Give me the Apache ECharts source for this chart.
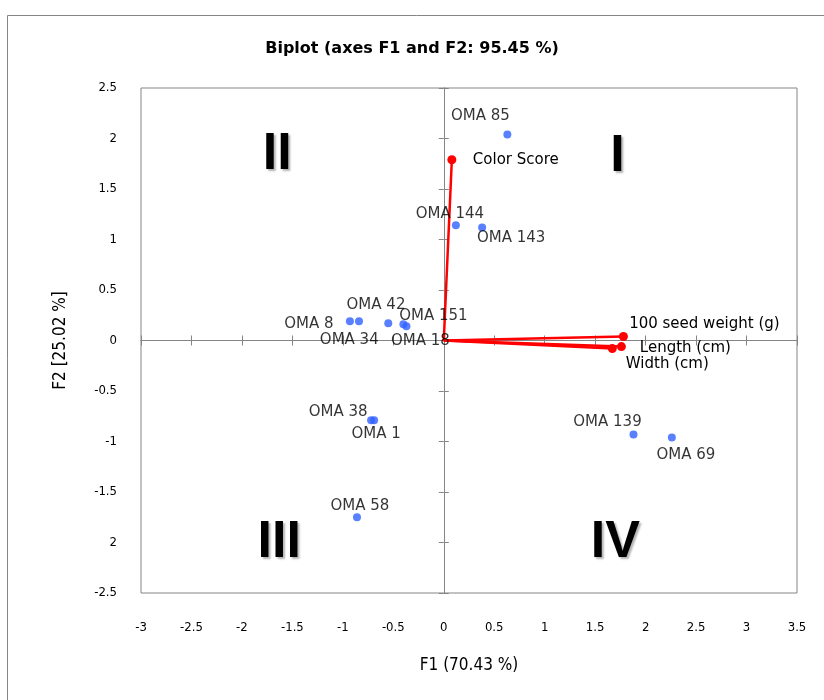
<!DOCTYPE html>
<html>
<head>
<meta charset="utf-8">
<script src="https://cdn.jsdelivr.net/npm/echarts@6/dist/echarts.min.js"></script>
<style>
  html, body { margin: 0; padding: 0; background: #fff; }
  #main { width: 824px; height: 700px; }
</style>
</head>
<body>
<div id="main"></div>
<script>
// observations (blue points)
const obsNames = ['OMA 85', 'OMA 144', 'OMA 143', 'OMA 8', 'OMA 42', 'OMA 34', 'OMA 151', 'OMA 18', 'OMA 38', 'OMA 1', 'OMA 58', 'OMA 139', 'OMA 69'];
const obsF1 = [0.63, 0.12, 0.38, -0.93, -0.84, -0.55, -0.40, -0.37, -0.72, -0.69, -0.86, 1.88, 2.26];
const obsF2 = [2.04, 1.14, 1.12, 0.19, 0.19, 0.17, 0.16, 0.14, -0.79, -0.79, -1.75, -0.93, -0.96];

// variables (red vectors)
const varNames = ['Color Score', '100 seed weight (g)', 'Length (cm)', 'Width (cm)'];
const varF1 = [0.08, 1.78, 1.76, 1.67];
const varF2 = [1.79, 0.04, -0.06, -0.08];

// quadrant numerals
const quadNames = ['I', 'II', 'III', 'IV'];
const quadF1 = [1.72, -1.65, -1.63, 1.70];
const quadF2 = [1.82, 1.84, -2.0, -2.0];

// tick labels (the original shows "2" at -2 on F2)
const xTicks = [-3, -2.5, -2, -1.5, -1, -0.5, 0, 0.5, 1, 1.5, 2, 2.5, 3, 3.5];
const xTickLabels = ['-3', '-2.5', '-2', '-1.5', '-1', '-0.5', '0', '0.5', '1', '1.5', '2', '2.5', '3', '3.5'];
const yTicks = [-2.5, -2, -1.5, -1, -0.5, 0, 0.5, 1, 1.5, 2, 2.5];
const yTickLabels = ['-2.5', '2', '-1.5', '-1', '-0.5', '0', '0.5', '1', '1.5', '2', '2.5'];

// label offsets (px, label centre relative to mark)
const obsLabelOffset = {
  'OMA 85': [-27, -18], 'OMA 144': [-6, -11], 'OMA 143': [29, 11], 'OMA 8': [-41, 3],
  'OMA 42': [17, -16], 'OMA 34': [-39, 17], 'OMA 151': [30, -8], 'OMA 18': [14, 15],
  'OMA 38': [-33, -8], 'OMA 1': [2, 14], 'OMA 58': [3, -11], 'OMA 139': [-26, -12], 'OMA 69': [14, 18]
};
const varLabelOffset = {
  'Color Score': [64, 0], '100 seed weight (g)': [81, -12], 'Length (cm)': [64, 2], 'Width (cm)': [55, 16]
};

const labelFont = 'DejaVu Sans';
const axisFont = '"Liberation Sans Narrow", "DejaVu Sans Condensed", "Liberation Sans"';
const gray = '#858585';

const chart = echarts.init(document.getElementById('main'));

function fmt(ticks, labels) {
  return function (v) {
    const i = ticks.findIndex(t => Math.abs(t - v) < 1e-6);
    return i >= 0 ? labels[i] : '';
  };
}

const xBase = { type: 'value', min: -3, max: 3.5, interval: 0.5, splitLine: { show: false } };
const yBase = { type: 'value', min: -2.5, max: 2.5, interval: 0.5, splitLine: { show: false } };

const xAxes = [
  Object.assign({}, xBase, {
    position: 'bottom',
    axisLine: { show: false, onZero: false },
    axisTick: { show: false },
    axisLabel: { margin: 28, fontFamily: axisFont, fontSize: 13, color: '#000', formatter: fmt(xTicks, xTickLabels) },
    name: 'F1 (70.43 %)', nameLocation: 'middle', nameGap: 64,
    nameTextStyle: { fontFamily: axisFont, fontSize: 17, color: '#000' }
  })
];
['inside', 'outside'].forEach(dir => {
  xAxes.push(Object.assign({}, xBase, {
    position: 'bottom',
    axisLine: { show: true, onZero: true, onZeroAxisIndex: 0, lineStyle: { color: gray, width: 1 } },
    axisTick: { show: true, inside: dir === 'inside', length: 5, lineStyle: { color: gray } },
    axisLabel: { show: false }
  }));
});

const yAxes = [
  Object.assign({}, yBase, {
    position: 'left',
    axisLine: { show: false, onZero: false },
    axisTick: { show: false },
    axisLabel: { margin: 24, fontFamily: axisFont, fontSize: 13, color: '#000', formatter: fmt(yTicks, yTickLabels) },
    name: 'F2 [25.02 %]', nameLocation: 'middle', nameGap: 72,
    nameTextStyle: { fontFamily: axisFont, fontSize: 17, color: '#000' }
  })
];
['inside', 'outside'].forEach(dir => {
  yAxes.push(Object.assign({}, yBase, {
    position: 'left',
    axisLine: { show: true, onZero: true, onZeroAxisIndex: 0, lineStyle: { color: gray, width: 1 } },
    axisTick: { show: true, inside: dir === 'inside', length: 5, lineStyle: { color: gray } },
    axisLabel: { show: false }
  }));
});

const series = [];

// vectors
varNames.forEach((name, i) => {
  series.push({
    type: 'line',
    name: name,
    data: [[0, 0], [varF1[i], varF2[i]]],
    symbol: 'circle',
    symbolSize: (val, p) => (p.dataIndex === 0 ? 0 : 9),
    lineStyle: { color: '#ff0000', width: 2.5 },
    itemStyle: { color: '#ff0000' },
    z: 4,
    label: {
      show: true,
      position: 'inside',
      offset: varLabelOffset[name],
      formatter: p => (p.dataIndex === 0 ? '' : name),
      fontFamily: labelFont, fontSize: 15, color: '#000'
    },
    silent: true
  });
});

// observations
series.push({
  type: 'scatter',
  name: 'obs',
  symbolSize: 8,
  itemStyle: { color: '#2f62ff' },
  z: 5,
  data: obsNames.map((n, i) => ({
    name: n,
    value: [obsF1[i], obsF2[i]],
    label: { offset: obsLabelOffset[n] }
  })),
  label: {
    show: true,
    position: 'inside',
    formatter: p => p.name,
    fontFamily: labelFont, fontSize: 15, color: '#000'
  }
});

// quadrant numerals
series.push({
  type: 'scatter',
  name: 'quad',
  symbolSize: 1,
  itemStyle: { color: '#000', opacity: 0 },
  silent: true,
  data: quadNames.map((n, i) => ({ name: n, value: [quadF1[i], quadF2[i]] })),
  label: {
    show: true,
    position: 'inside',
    formatter: p => p.name,
    opacity: 1,
    fontFamily: 'Liberation Sans', fontWeight: 'bold', fontSize: 52, color: '#000000',
    textBorderWidth: 0,
    textShadowColor: 'rgba(0,0,0,0.3)', textShadowBlur: 2, textShadowOffsetX: 2, textShadowOffsetY: 2
  }
});

chart.setOption({
  backgroundColor: '#fff',
  animation: false,
  title: {
    text: 'Biplot (axes F1 and F2: 95.45 %)',
    left: 'center', top: 36,
    textStyle: { fontFamily: 'DejaVu Sans', fontSize: 16, fontWeight: 'bold', color: '#000' }
  },
  grid: { left: 141, right: 27, top: 88, bottom: 107, show: true, borderColor: gray, borderWidth: 1, backgroundColor: 'transparent' },
  xAxis: xAxes,
  yAxis: yAxes,
  series: series,
  graphic: [{
    type: 'rect', left: 5, top: 13, silent: true,
    shape: { x: 0, y: 0, width: 840, height: 720 },
    style: { fill: 'none', stroke: gray, lineWidth: 1 }
  }]
});
</script>
</body>
</html>
